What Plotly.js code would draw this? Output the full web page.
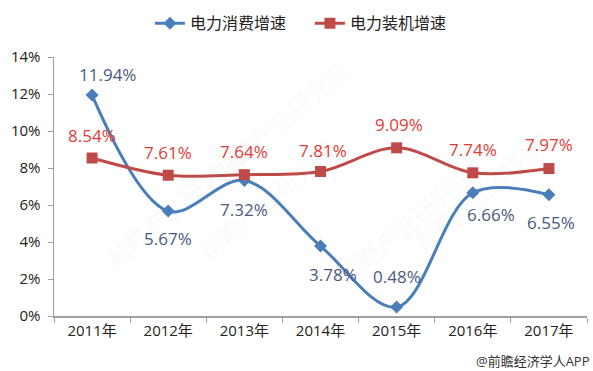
<!DOCTYPE html>
<html>
<head>
<meta charset="utf-8">
<script src="https://cdn.plot.ly/plotly-3.0.1.min.js"></script>
<style>
html,body{margin:0;padding:0;background:#fff;}
#chart{width:593px;height:371px;}
</style>
</head>
<body>
<div id="chart"></div>
<script>
const categories = ["2011年","2012年","2013年","2014年","2015年","2016年","2017年"];
const consumption = [11.94, 5.67, 7.32, 3.78, 0.48, 6.66, 6.55];
const capacity = [8.54, 7.61, 7.64, 7.81, 9.09, 7.74, 7.97];
const seriesNames = ["电力消费增速", "电力装机增速"];
const yTickVals = [0, 2, 4, 6, 8, 10, 12, 14];
const yTickText = ["0%","2%","4%","6%","8%","10%","12%","14%"];
const watermarkText = "前瞻产业研究院";

const FONT = "'Open Sans', 'Noto Sans CJK SC', sans-serif";
const blueLine = "#4A7EBB";
const redLine = "#BE4B48";
const blueText = "#4A5A80";
const redText = "#E23B36";

// label offsets (pixels)
const blueShift = [[15,21],[0,-27],[0,-29],[12,-28],[0,31],[18,-22],[2,-28]];
const redShift = [[0,23],[0,23],[0,23],[2,21],[2,23],[0,23],[0,24]];

const annotations = [];
// faint watermarks (paper coords)
[[0.28,1.02],[0.40,0.45],[0.08,0.15],[0.66,0.08],[0.95,0.75]].forEach(p=>{
  annotations.push({xref:'paper', yref:'paper', x:p[0], y:p[1], text:watermarkText, showarrow:false,
    textangle:-40, font:{family:FONT, size:24, color:'rgba(150,150,150,0.06)'}});
});
consumption.forEach((v,i)=>{
  annotations.push({x: categories[i], y: v, xref:'x', yref:'y', text: v.toFixed(2)+'%',
    showarrow:false, xshift: blueShift[i][0], yshift: blueShift[i][1],
    font:{family:FONT, size:17, color:blueText}});
});
capacity.forEach((v,i)=>{
  annotations.push({x: categories[i], y: v, xref:'x', yref:'y', text: v.toFixed(2)+'%',
    showarrow:false, xshift: redShift[i][0], yshift: redShift[i][1],
    font:{family:FONT, size:17, color:redText}});
});
annotations.push({xref:'paper', yref:'paper', x:1.01, y:-0.175, xanchor:'right', yanchor:'middle',
  text:'@前瞻经济学人APP', showarrow:false, font:{family:FONT, size:13, color:'#333'}});

const traces = [
  {x: categories, y: consumption, name: seriesNames[0], type:'scatter', mode:'lines+markers',
   line:{color:blueLine, width:3, shape:'spline', smoothing:1},
   marker:{symbol:'diamond', size:10, color:blueLine}},
  {x: categories, y: capacity, name: seriesNames[1], type:'scatter', mode:'lines+markers',
   line:{color:redLine, width:3, shape:'spline', smoothing:1},
   marker:{symbol:'square', size:11, color:redLine}}
];

const layout = {
  width:593, height:371,
  margin:{l:54, r:6, t:54, b:55},
  paper_bgcolor:'#fff', plot_bgcolor:'#fff',
  showlegend:true,
  legend:{orientation:'h', x:0.18, xanchor:'left', y:1.13, yanchor:'middle',
    entrywidth:115, entrywidthmode:'pixels',
    font:{family:FONT, size:16, color:'#222'}, bgcolor:'rgba(0,0,0,0)'},
  xaxis:{type:'category', range:[-0.5,6.5], showline:true, linecolor:'#A0A0A0', linewidth:1.5,
    ticks:'outside', tickson:'boundaries', ticklen:5, tickcolor:'#A0A0A0', showgrid:false, zeroline:false,
    tickfont:{family:FONT, size:15, color:'#222'}},
  yaxis:{range:[0,14], tickvals:yTickVals, ticktext:yTickText, showline:true, linecolor:'#A0A0A0', linewidth:1.5,
    ticks:'outside', ticklen:5, tickcolor:'#A0A0A0', showgrid:false, zeroline:false, ticklabelstandoff:4,
    tickfont:{family:FONT, size:15, color:'#222'}},
  annotations: annotations
};

Plotly.newPlot('chart', traces, layout, {displayModeBar:false, staticPlot:true});
</script>
</body>
</html>
